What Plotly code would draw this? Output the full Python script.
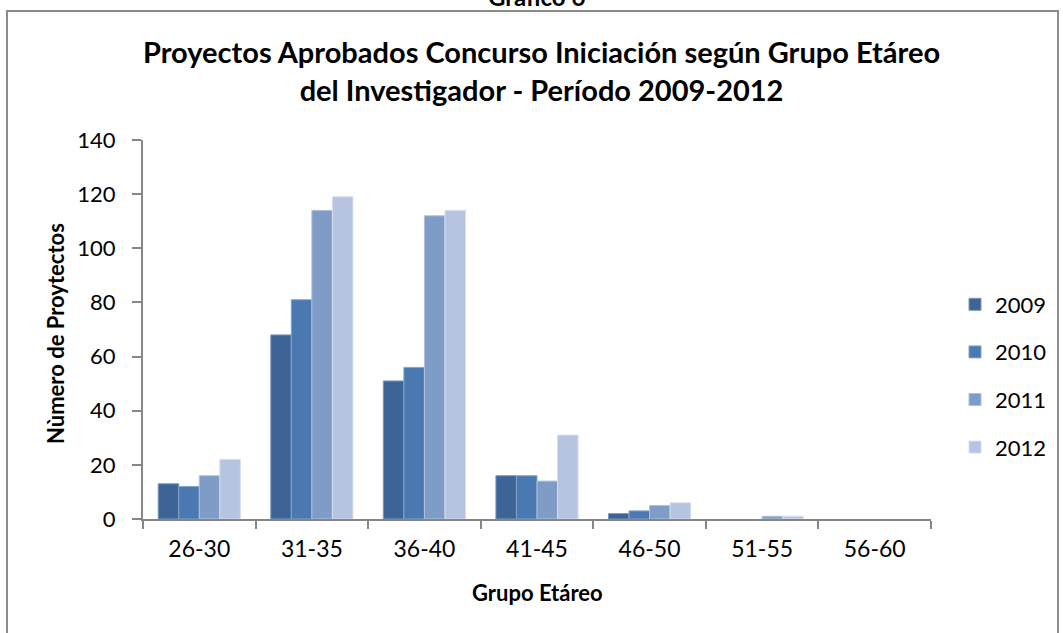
import plotly.graph_objects as go

categories = ["26-30", "31-35", "36-40", "41-45", "46-50", "51-55", "56-60"]
years = ["2009", "2010", "2011", "2012"]
v2009 = [13, 68, 51, 16, 2, 0, 0]
v2010 = [12, 81, 56, 16, 3, 0, 0]
v2011 = [16, 114, 112, 14, 5, 1, 0]
v2012 = [22, 119, 114, 31, 6, 1, 0]
series = [v2009, v2010, v2011, v2012]
colors = ["#3C6496", "#4A79B1", "#7F9CC7", "#B6C4DF"]
edge = ["#7D97BA", "#86A4CB", "#AEC0DC", "#D6DFEE"]

FONT = "Lato, Open Sans, sans-serif"

W, H = 1063, 633
L, R, T, B = 143, 931, 140, 519
pw, ph = R - L, B - T


def px(x):
    return (x - L) / pw


def py(y):
    return (B - y) / ph


fig = go.Figure()
for y, vals, c, e in zip(years, series, colors, edge):
    fig.add_trace(go.Bar(
        x=categories, y=vals, name=y, legendgroup=y,
        marker=dict(color=c, line=dict(color=e, width=[1 if v > 0 else 0 for v in vals])),
    ))

fig.update_layout(
    width=W, height=H,
    margin=dict(l=L, r=W - R, t=T, b=H - B, autoexpand=False),
    paper_bgcolor="white", plot_bgcolor="white",
    font=dict(family=FONT, color="black", size=22),
    barmode="group", bargap=0.27, bargroupgap=0,
    showlegend=True,
    legend=dict(x=px(955), y=py(376), xanchor="left", yanchor="middle",
                font=dict(size=22, family=FONT), tracegroupgap=16,
                traceorder="grouped", bgcolor="rgba(0,0,0,0)"),
    xaxis=dict(showline=True, linecolor="#868686", linewidth=2,
               ticks="outside", ticklen=8, tickcolor="#868686", tickwidth=2,
               tickson="boundaries", tickfont=dict(size=23, family=FONT),
               ticklabelstandoff=8, automargin=False, showgrid=False),
    yaxis=dict(range=[0, 140], dtick=20, showline=True, linecolor="#868686", linewidth=2,
               ticks="outside", ticklen=9, tickcolor="#868686", tickwidth=2,
               tickfont=dict(size=22, family=FONT), ticklabelstandoff=12,
               showgrid=False, zeroline=False, automargin=False),
    shapes=[dict(type="rect", xref="paper", yref="paper",
                 x0=px(7), x1=px(1058), y0=py(660), y1=py(11),
                 line=dict(color="#8C8C8C", width=2), fillcolor="rgba(0,0,0,0)", layer="below")],
    annotations=[
        dict(text="<b>Proyectos Aprobados Concurso Iniciación según Grupo Etáreo<br>del Investigador - Período 2009-2012</b>",
             xref="paper", yref="paper", x=px(541), y=py(70), xanchor="center", yanchor="middle",
             showarrow=False, font=dict(size=29, family=FONT), align="center"),
        dict(text="<b>Gráfico 6</b>", xref="paper", yref="paper", x=px(536), y=py(-3),
             xanchor="center", yanchor="middle", showarrow=False,
             font=dict(size=24, family=FONT)),
        dict(text="<b>Grupo Etáreo</b>", xref="paper", yref="paper", x=px(537), y=py(592),
             xanchor="center", yanchor="middle", showarrow=False,
             font=dict(size=22, family=FONT)),
        dict(text="<b>Nùmero de Proytectos</b>", xref="paper", yref="paper", x=px(55), y=py(334),
             xanchor="center", yanchor="middle", showarrow=False, textangle=-90,
             font=dict(size=22, family=FONT)),
    ],
)

fig.write_html("out.html", config={"displayModeBar": False},
               post_script="document.body.style.margin='0';")
